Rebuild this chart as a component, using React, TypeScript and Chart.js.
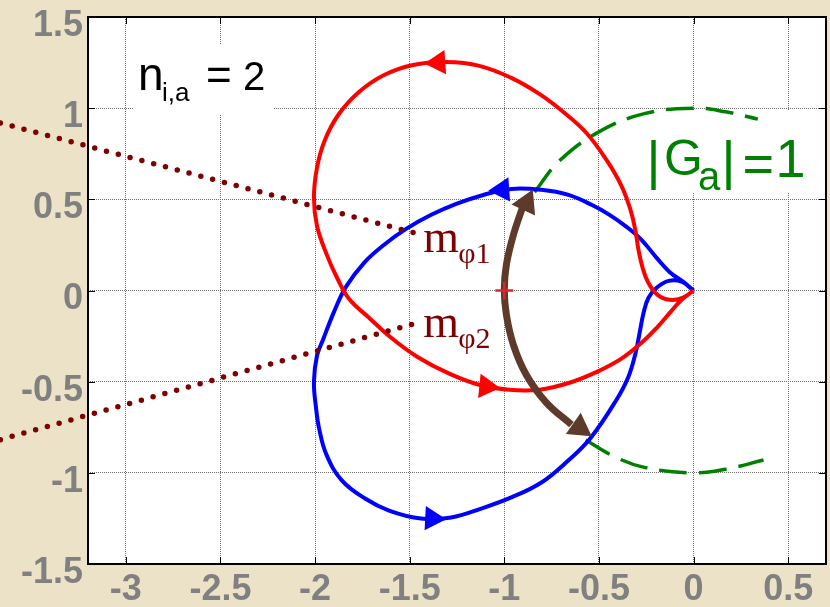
import React, { useEffect, useRef } from 'react';
import { Chart, registerables } from 'chart.js';

Chart.register(...registerables);

// Axis layout
const X_TICKS = [-3, -2.5, -2, -1.5, -1, -0.5, 0, 0.5];
const Y_TICKS = [-1.5, -1, -0.5, 0, 0.5, 1, 1.5];
const X_MIN = -3.2;
const X_MAX = 0.7;
const Y_MIN = -1.5;
const Y_MAX = 1.5;

// Nyquist locus of branch 1, from the origin, counter-clockwise
const RED_LOCUS: number[][] = [
  [0, 0], [-0.058, -0.04], [-0.127, -0.051], [-0.19, -0.024], [-0.239, 0.042],
  [-0.269, 0.124], [-0.291, 0.223], [-0.306, 0.322], [-0.333, 0.442], [-0.381, 0.574],
  [-0.46, 0.716], [-0.566, 0.864], [-0.688, 0.979], [-0.815, 1.078], [-0.963, 1.166],
  [-1.132, 1.232], [-1.307, 1.253], [-1.482, 1.237], [-1.635, 1.182], [-1.768, 1.089],
  [-1.874, 0.968], [-1.948, 0.826], [-1.99, 0.673], [-2.006, 0.508], [-1.99, 0.355],
  [-1.94, 0.201], [-1.884, 0.07], [-1.821, -0.045], [-1.715, -0.149], [-1.598, -0.259],
  [-1.461, -0.363], [-1.291, -0.456], [-1.133, -0.517], [-0.974, -0.544], [-0.815, -0.544],
  [-0.656, -0.506], [-0.508, -0.445], [-0.381, -0.374], [-0.275, -0.287], [-0.19, -0.199],
  [-0.121, -0.117], [-0.063, -0.051], [0, 0],
];

// Nyquist locus of branch 2, from the origin, counter-clockwise
const BLUE_LOCUS: number[][] = [
  [0, 0], [-0.047, 0.042], [-0.127, 0.102], [-0.195, 0.179], [-0.275, 0.278],
  [-0.354, 0.349], [-0.444, 0.415], [-0.539, 0.47], [-0.661, 0.524], [-0.804, 0.552],
  [-0.963, 0.557], [-1.111, 0.524], [-1.254, 0.475], [-1.386, 0.415], [-1.519, 0.338],
  [-1.635, 0.251], [-1.741, 0.152], [-1.837, 0.02], [-1.9, -0.117], [-1.958, -0.27],
  [-1.99, -0.358], [-2.006, -0.5], [-1.995, -0.643], [-1.978, -0.76], [-1.94, -0.9],
  [-1.86, -1.04], [-1.736, -1.141], [-1.609, -1.207], [-1.44, -1.251], [-1.281, -1.245],
  [-1.122, -1.196], [-0.963, -1.135], [-0.804, -1.053], [-0.665, -0.935], [-0.545, -0.81],
  [-0.407, -0.599], [-0.344, -0.473], [-0.306, -0.341], [-0.285, -0.232],
  [-0.264, -0.122], [-0.238, -0.04], [-0.195, 0.015], [-0.132, 0.053], [-0.063, 0.048], [0, 0],
];

// Flow direction markers on each locus (point, heading in degrees)
const RED_ARROW_POINTS: number[][] = [[-1.349, 1.25], [-1.095, -0.527]];
const RED_ARROW_HEADINGS = [266, 96];
const BLUE_ARROW_POINTS: number[][] = [[-1.011, 0.552], [-1.381, -1.25]];
const BLUE_ARROW_HEADINGS = [266, 93];

// Unit circle |G_a| = 1, two visible arcs
const UNIT_ARC_UPPER: number[][] = [
  [-0.84, 0.54], [-0.71, 0.71], [-0.5, 0.87], [-0.26, 0.97], [0, 1], [0.17, 0.98], [0.34, 0.94],
];
const UNIT_ARC_LOWER: number[][] = [
  [-0.57, -0.82], [-0.42, -0.91], [-0.26, -0.97], [0, -1], [0.17, -0.98], [0.37, -0.93],
];

// Phase swing between the two unit-circle crossings
const PHASE_SWING: number[][] = [
  [-0.899, 0.47], [-0.952, 0.305], [-0.989, 0.141], [-1.0, 0.004], [-0.989, -0.133],
  [-0.952, -0.298], [-0.884, -0.462], [-0.778, -0.615], [-0.645, -0.736],
];
const SWING_HEAD_POINTS: number[][] = [[-0.883, 0.479], [-0.603, -0.752]];
const SWING_HEAD_HEADINGS = [25, 125];

// Critical point
const CRITICAL_POINT: number[][] = [[-1, 0]];

// Leader lines for the phase-margin labels
const LEADER_PHI1: number[][] = [[-3.663, 0.919], [-1.476, 0.316]];
const LEADER_PHI2: number[][] = [[-3.663, -0.818], [-1.476, -0.182]];

const BG = '#ECE2C7';
const RED = '#FF0000';
const BLUE = '#0000FF';
const GREEN = '#008000';
const BROWN = '#5E3A2A';
const DARKRED = '#7F0000';
const GRID = '#6E6E6E';

const pts = (arr: number[][]) => arr.map(([x, y]) => ({ x, y }));

type Run = { text: string; dx: number; dy: number; size: number; family: string };
type Label = { at: number[]; color: string; box?: number[]; runs: Run[] };

const SANS = '"Liberation Sans", Arial, sans-serif';
const SERIF = '"Liberation Serif", "Times New Roman", serif';

const LABELS: Label[] = [
  {
    at: [-2.92, 1.1],
    color: '#000000',
    box: [-7, -45, 132, 25],
    runs: [
      { text: 'n', dx: -3, dy: 0, size: 46, family: SANS },
      { text: 'i,a', dx: 21, dy: 11, size: 26, family: SANS },
      { text: '=', dx: 65, dy: 0, size: 44, family: SANS },
      { text: '2', dx: 102, dy: 0, size: 40, family: SANS },
    ],
  },
  {
    at: [-0.222, 0.628],
    color: GREEN,
    box: [-25, -65, 174, 16],
    runs: [
      { text: '|', dx: -5, dy: 3, size: 54, family: SANS },
      { text: 'G', dx: 12.5, dy: -1, size: 50, family: SANS },
      { text: 'a', dx: 46.5, dy: 14, size: 40, family: SANS },
      { text: '|', dx: 70, dy: 3, size: 54, family: SANS },
      { text: '=', dx: 91, dy: 6, size: 54, family: SANS },
      { text: '1', dx: 124, dy: 1, size: 54, family: SANS },
    ],
  },
  {
    at: [-1.429, 0.212],
    color: DARKRED,
    runs: [
      { text: 'm', dx: 0, dy: 0, size: 46, family: SERIF },
      { text: 'φ1', dx: 35, dy: 11, size: 30, family: SERIF },
    ],
  },
  {
    at: [-1.429, -0.254],
    color: DARKRED,
    runs: [
      { text: 'm', dx: 0, dy: 0, size: 46, family: SERIF },
      { text: 'φ2', dx: 35, dy: 11, size: 30, family: SERIF },
    ],
  },
];

const plotDecor = {
  id: 'plotDecor',
  beforeDraw(chart: any) {
    const { ctx, chartArea: a } = chart;
    ctx.save();
    ctx.fillStyle = '#FFFFFF';
    ctx.fillRect(a.left, a.top, a.right - a.left, a.bottom - a.top);
    ctx.restore();
  },
  beforeDatasetsDraw(chart: any) {
    const { ctx, chartArea: a, scales } = chart;
    const xs = scales.x;
    const ys = scales.y;
    ctx.save();
    // white backing behind the text labels
    ctx.fillStyle = '#FFFFFF';
    for (const lab of LABELS) {
      if (!lab.box) continue;
      const px = xs.getPixelForValue(lab.at[0]);
      const py = ys.getPixelForValue(lab.at[1]);
      const [l, t, r, b] = lab.box;
      ctx.fillRect(px + l, py + t, r - l, b - t);
    }
    // frame
    ctx.strokeStyle = '#000000';
    ctx.lineWidth = 2;
    ctx.strokeRect(a.left, a.top, a.right - a.left, a.bottom - a.top);
    // inward tick marks on all four sides
    ctx.lineWidth = 1;
    const len = 7;
    ctx.beginPath();
    for (const v of X_TICKS) {
      const x = Math.round(xs.getPixelForValue(v)) + 0.5;
      ctx.moveTo(x, a.bottom);
      ctx.lineTo(x, a.bottom - len);
      ctx.moveTo(x, a.top);
      ctx.lineTo(x, a.top + len);
    }
    for (const v of Y_TICKS) {
      const y = Math.round(ys.getPixelForValue(v)) + 0.5;
      ctx.moveTo(a.left, y);
      ctx.lineTo(a.left + len, y);
      ctx.moveTo(a.right, y);
      ctx.lineTo(a.right - len, y);
    }
    ctx.stroke();
    ctx.restore();
  },
  afterDatasetsDraw(chart: any) {
    const { ctx, scales } = chart;
    ctx.save();
    ctx.textBaseline = 'alphabetic';
    ctx.textAlign = 'left';
    for (const lab of LABELS) {
      const px = scales.x.getPixelForValue(lab.at[0]);
      const py = scales.y.getPixelForValue(lab.at[1]);
      ctx.fillStyle = lab.color;
      for (const run of lab.runs) {
        ctx.font = `${run.size}px ${run.family}`;
        ctx.fillText(run.text, px + run.dx, py + run.dy);
      }
    }
    ctx.restore();
  },
};

const tickFont = { family: SANS, size: 36, weight: 'bold' as const };

export default function App() {
  const canvasRef = useRef<HTMLCanvasElement | null>(null);

  useEffect(() => {
    const canvas = canvasRef.current;
    if (!canvas) return;

    const curve = (data: number[][], color: string, width: number, order: number, extra: any = {}) => ({
      data: pts(data),
      showLine: true,
      borderColor: color,
      backgroundColor: color,
      borderWidth: width,
      pointRadius: 0,
      pointHoverRadius: 0,
      fill: false,
      order,
      ...extra,
    });

    const heads = (data: number[][], headings: number[], color: string, radius: number, order: number) => ({
      data: pts(data),
      showLine: false,
      pointStyle: 'triangle',
      pointRadius: radius,
      pointHoverRadius: radius,
      pointRotation: headings,
      pointBackgroundColor: color,
      pointBorderColor: color,
      pointBorderWidth: 0,
      order,
    });

    const chart = new Chart(canvas, {
      type: 'scatter',
      data: {
        datasets: [
          curve(LEADER_PHI1, DARKRED, 5.5, 0, { borderDash: [0, 12.2], borderCapStyle: 'round', clip: false }),
          curve(LEADER_PHI2, DARKRED, 5.5, 0, { borderDash: [0, 12.2], borderCapStyle: 'round', clip: false }),
          {
            data: pts(CRITICAL_POINT),
            showLine: false,
            pointStyle: 'cross',
            pointRadius: 9,
            pointBorderColor: '#E8202A',
            pointBorderWidth: 2.5,
            order: 1,
          },
          heads(SWING_HEAD_POINTS, SWING_HEAD_HEADINGS, BROWN, 15, 2),
          curve(PHASE_SWING, BROWN, 7, 3, { tension: 0.4 }),
          heads(RED_ARROW_POINTS, RED_ARROW_HEADINGS, RED, 14, 4),
          curve(RED_LOCUS, RED, 4, 5, { tension: 0.4 }),
          heads(BLUE_ARROW_POINTS, BLUE_ARROW_HEADINGS, BLUE, 14, 6),
          curve(BLUE_LOCUS, BLUE, 4, 7, { tension: 0.4 }),
          curve(UNIT_ARC_UPPER, GREEN, 3.5, 8, { tension: 0.4, borderDash: [28, 12] }),
          curve(UNIT_ARC_LOWER, GREEN, 3.5, 8, { tension: 0.4, borderDash: [28, 12] }),
        ] as any,
      },
      options: {
        animation: false,
        responsive: false,
        maintainAspectRatio: false,
        events: [],
        layout: { autoPadding: false, padding: { top: 17, right: 4, left: 0, bottom: 0 } },
        plugins: {
          legend: { display: false },
          tooltip: { enabled: false },
        },
        scales: {
          x: {
            type: 'linear',
            min: X_MIN,
            max: X_MAX,
            afterBuildTicks: (s: any) => {
              s.ticks = X_TICKS.map((value) => ({ value }));
            },
            afterFit: (s: any) => {
              s.height = 43;
              s.paddingLeft = 0;
              s.paddingRight = 0;
              s.paddingTop = 0;
              s.paddingBottom = 0;
            },
            ticks: {
              autoSkip: false,
              maxRotation: 0,
              padding: 4,
              color: '#808080',
              font: tickFont,
              callback: (v: any) => String(v),
            },
            grid: { color: GRID, lineWidth: 1, drawTicks: false },
            border: { display: false, dash: [1, 1] },
          },
          y: {
            type: 'linear',
            min: Y_MIN,
            max: Y_MAX,
            afterBuildTicks: (s: any) => {
              s.ticks = Y_TICKS.map((value) => ({ value }));
            },
            afterFit: (s: any) => {
              s.width = 88;
              s.paddingLeft = 0;
              s.paddingRight = 0;
              s.paddingTop = 0;
              s.paddingBottom = 0;
            },
            ticks: {
              autoSkip: false,
              padding: 5,
              labelOffset: 9,
              color: '#808080',
              font: tickFont,
              callback: (v: any) => String(v),
            },
            grid: { color: GRID, lineWidth: 1, drawTicks: false },
            border: { display: false, dash: [1, 1] },
          },
        },
      } as any,
      plugins: [plotDecor],
    });

    return () => chart.destroy();
  }, []);

  return (
    <div
      style={{
        position: 'fixed',
        left: 0,
        top: 0,
        width: 830,
        height: 607,
        background: BG,
      }}
    >
      <canvas ref={canvasRef} width={830} height={607} style={{ display: 'block' }} />
    </div>
  );
}
